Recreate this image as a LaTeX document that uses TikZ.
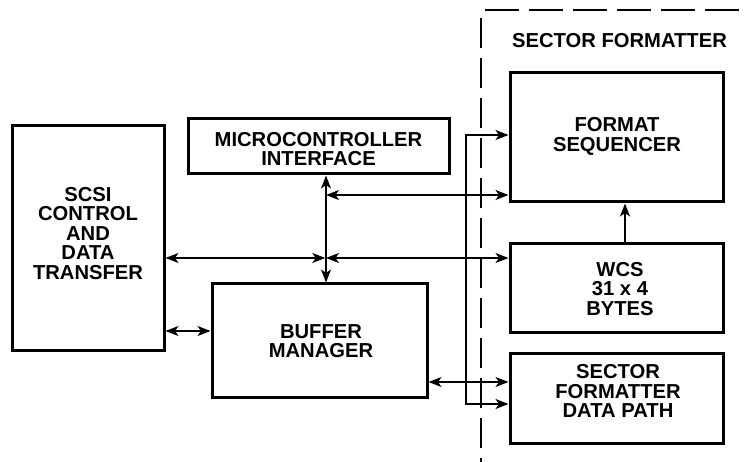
\documentclass[tikz,border=0pt]{standalone}
\usepackage{fontspec}
\setmainfont{Liberation Sans}
\usetikzlibrary{arrows.meta}
\begin{document}
\begin{tikzpicture}[x=1pt,y=-1pt,
  lbl/.style={font=\bfseries\fontsize{20.2}{19.5}\selectfont, align=center, inner sep=0pt},
  blk/.style={draw, line width=3pt, inner sep=0pt},
  link/.style={line width=1.4pt, {Stealth[length=13pt,width=10pt,inset=3.5pt]}-{Stealth[length=13pt,width=10pt,inset=3.5pt]}},
  oneway/.style={line width=1.4pt, -{Stealth[length=13pt,width=10pt,inset=3.5pt]}},
  boundary/.style={line width=1.4pt},
]
\useasboundingbox (0,0) rectangle (747,462);

% blocks
\node[blk, minimum width=152pt, minimum height=224pt] (scsi) at (88,238) {};
\node[blk, minimum width=261pt, minimum height=55pt] (micro) at (318.5,146.5) {};
\node[blk, minimum width=215pt, minimum height=113pt] (buffer) at (319.5,340.5) {};
\node[blk, minimum width=213pt, minimum height=129pt] (fmtseq) at (616.5,137.5) {};
\node[blk, minimum width=213pt, minimum height=89pt] (wcs) at (616.5,288.5) {};
\node[blk, minimum width=213pt, minimum height=90pt] (datapath) at (616.5,398) {};

% block labels
\node[lbl] (scsi-t) at (88,233.5) {SCSI\\CONTROL\\AND\\DATA\\TRANSFER};
\node[lbl] (micro-t) at (318.5,149) {MICROCONTROLLER\\INTERFACE};
\node[lbl] (buffer-t) at (321,341) {BUFFER\\MANAGER};
\node[lbl] (fmtseq-t) at (617,136.5) {FORMAT\\SEQUENCER};
\node[lbl] (wcs-t) at (620,289) {WCS\\31 x 4\\BYTES};
\node[lbl] (datapath-t) at (618,391) {SECTOR\\FORMATTER\\DATA PATH};

% sector formatter boundary
\node[anchor=base, lbl] (title) at (619.5,48) {SECTOR FORMATTER};
\draw[boundary, dash pattern=on 30pt off 10pt] (481,18) -- (481,462);
\draw[boundary, dash pattern=on 34pt off 10pt] (485,10) -- (747,10);

% reference positions for the bus lines
\coordinate (bus) at (326,0);
\coordinate (riser) at (466,0);
\coordinate (col) at (625,0);
\coordinate (r1) at (0,195);
\coordinate (r2) at (0,258);
\coordinate (r3) at (0,331);
\coordinate (r4) at (0,382);
\coordinate (r5) at (0,135);
\coordinate (r6) at (0,404);

% connectors
\draw[link] (micro.south -| bus) -- (buffer.north -| bus);
\draw[link] (bus |- r1) -- (fmtseq.west |- r1);
\draw[link, shorten >=0.7pt] (scsi.east |- r2) -- (bus |- r2);
\draw[link] (bus |- r2) -- (wcs.west |- r2);
\draw[link] (scsi.east |- r3) -- (buffer.west |- r3);
\draw[link] (buffer.east |- r4) -- (datapath.west |- r4);
\draw[link] (fmtseq.west |- r5) -- (riser |- r5) -- (riser |- r6) -- (datapath.west |- r6);
\draw[oneway] (wcs.north -| col) -- (fmtseq.south -| col);
\end{tikzpicture}
\end{document}
